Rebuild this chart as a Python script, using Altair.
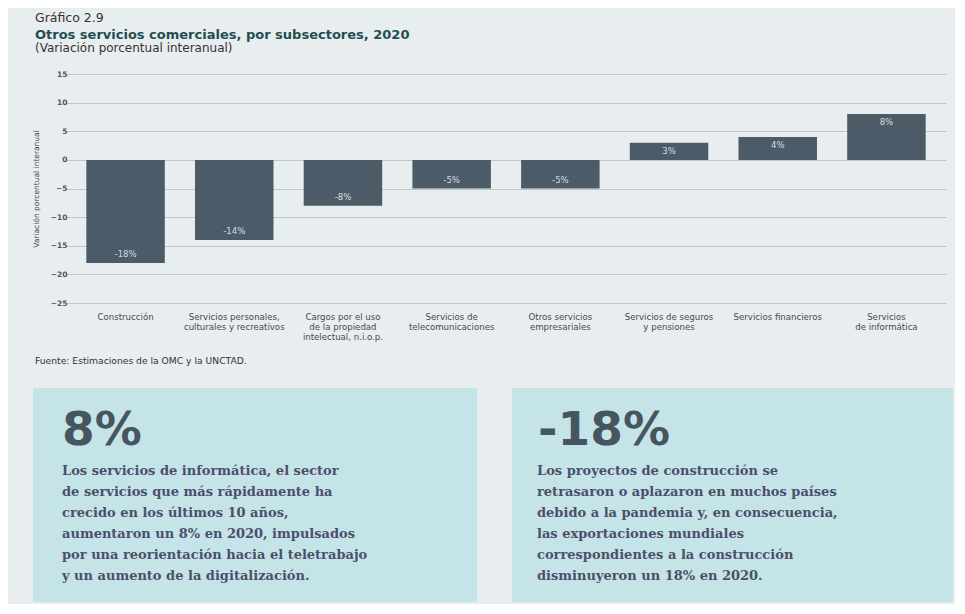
import altair as alt
import pandas as pd

categories = [
    "Construcción",
    "Servicios personales,|culturales y recreativos",
    "Cargos por el uso|de la propiedad|intelectual, n.i.o.p.",
    "Servicios de|telecomunicaciones",
    "Otros servicios|empresariales",
    "Servicios de seguros|y pensiones",
    "Servicios financieros",
    "Servicios|de informática",
]
values = [-18, -14, -8, -5, -5, 3, 4, 8]
y_ticks = [-25, -20, -15, -10, -5, 0, 5, 10, 15]

heading = "Gráfico 2.9"
title = "Otros servicios comerciales, por subsectores, 2020"
subtitle = "(Variación porcentual interanual)"
y_title = "Variación porcentual interanual"
source = "Fuente:  Estimaciones de la OMC y la UNCTAD."
left_big = "8%"
left_body = ("Los servicios de informática, el sector\nde servicios que más rápidamente ha\n"
             "crecido en los últimos 10 años,\naumentaron un 8% en 2020, impulsados\n"
             "por una reorientación hacia el teletrabajo\ny un aumento de la digitalización.")
right_big = "-18%"
right_body = ("Los proyectos de construcción se\nretrasaron o aplazaron en muchos países\n"
              "debido a la pandemia y, en consecuencia,\nlas exportaciones mundiales\n"
              "correspondientes a la construcción\ndisminuyeron un 18% en 2020.")

df = pd.DataFrame({"cat": categories, "val": values})
df["lab"] = [f"{v}%" for v in values]

BG = "#e8edef"
BOX = "#c4e4e8"
BAR = "#4b5b68"
SANS = "DejaVu Sans"

x_enc = alt.X(
    "cat:N", sort=categories,
    scale=alt.Scale(paddingInner=0.278, paddingOuter=0.187, range=[-6, 874]),
    axis=alt.Axis(title=None, labelAngle=0, labelExpr="split(datum.label, '|')",
                  domain=False, ticks=False, labelPadding=9, labelFontSize=8.6,
                  labelColor="#4a4a4a", labelFont=SANS, labelLineHeight=10,
                  labelOverlap=False, labelLimit=300),
)
y_enc = alt.Y(
    "val:Q",
    scale=alt.Scale(domain=[-25, 15], nice=False, zero=False),
    axis=alt.Axis(values=y_ticks, title=y_title, titleFontSize=7.5, titleFont=SANS,
                  titleFontWeight="normal", titleColor="#444", titlePadding=10,
                  grid=True, gridColor="#c2c6c8", gridWidth=1.2, domain=False, ticks=False,
                  labelPadding=5, labelFontSize=7.5, labelFontWeight="bold",
                  labelColor="#555", labelFont=SANS, labelOverlap=False),
)

base = alt.Chart(df)
bars = base.mark_bar(color=BAR).encode(x=x_enc, y=y_enc)
neg_labels = base.transform_filter("datum.val < 0").mark_text(
    baseline="bottom", dy=-4, color="#d8dee3", fontSize=8.5, font=SANS
).encode(x=x_enc, y=y_enc, text="lab:N")
pos_labels = base.transform_filter("datum.val >= 0").mark_text(
    baseline="top", dy=4, color="#d8dee3", fontSize=8.5, font=SANS
).encode(x=x_enc, y=y_enc, text="lab:N")


def box(x1, x2, y1, y2):
    return alt.Chart(pd.DataFrame({"k": [0]})).mark_rect(color=BOX).encode(
        x=alt.value(x1), x2=alt.value(x2), y=alt.value(y1), y2=alt.value(y2))


def txt(s, px, py, **kw):
    return alt.Chart(pd.DataFrame({"t": [s]})).mark_text(align="left", baseline="alphabetic", **kw).encode(
        x=alt.value(px), y=alt.value(py), text="t:N")


layers = [
    box(-39, 405, 314, 528),
    box(440, 881, 314, 528),
    bars, neg_labels, pos_labels,
    txt(heading, -37, -52, fontSize=12.5, color="#333", font=SANS),
    txt(title, -37, -35, fontSize=13, fontWeight="bold", color="#1e4f50", font=SANS),
    txt(subtitle, -37, -22, fontSize=12, color="#333", font=SANS),
    txt(source, -37, 290, fontSize=9.2, color="#333", font=SANS),
    txt(left_big, -10, 371, fontSize=47, fontWeight="bold", color="#46555f", font=SANS),
    txt(right_big, 466, 371, fontSize=47, fontWeight="bold", color="#46555f", font=SANS),
    txt(left_body, -10, 401, fontSize=13, fontWeight="bold", color="#4c4f6c",
        font="DejaVu Serif", lineBreak="\n", lineHeight=21),
    txt(right_body, 465, 401, fontSize=13, fontWeight="bold", color="#4c4f6c",
        font="DejaVu Serif", lineBreak="\n", lineHeight=21),
]

chart = alt.layer(*layers).properties(
    width=880, height=229,
    autosize=alt.AutoSizeParams(type="none"),
    padding={"left": 64, "top": 66, "right": 3, "bottom": 301},
    background=BG,
).configure_view(strokeWidth=0)

chart.save("out.html", embed_options={"renderer": "svg", "actions": False})
